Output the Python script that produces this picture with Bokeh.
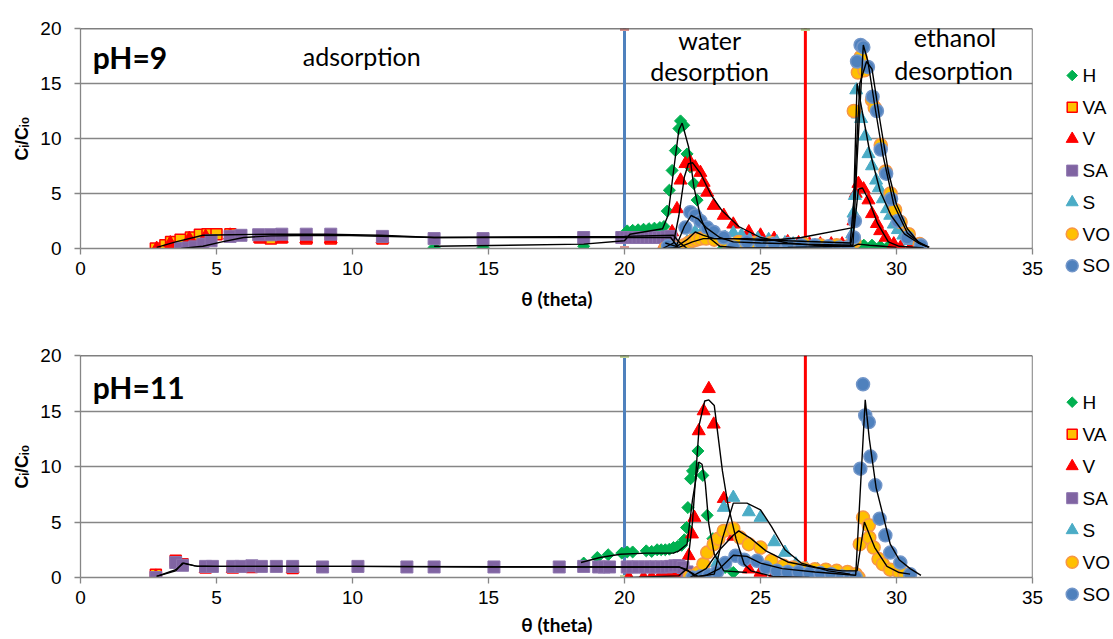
from math import pi
from bokeh.plotting import figure
from bokeh.models import Range1d, Span, Label, FixedTicker
from bokeh.layouts import column, row
from bokeh.core.properties import value
from bokeh.embed import file_html
from bokeh.resources import INLINE

# ---------------- data ----------------
X_TICKS = [0, 5, 10, 15, 20, 25, 30, 35]
Y_TICKS = [0, 5, 10, 15, 20]
SERIES = ["H", "VA", "V", "SA", "S", "VO", "SO"]
PHASE_BOUNDS = [20.0, 26.65]

# pH = 9
H9_x = [13.0, 14.8, 18.5, 20.1, 20.3, 20.5, 20.7, 20.9, 21.1, 21.3, 21.45, 21.57, 21.65, 21.75, 21.87, 22.0, 22.06, 22.18, 22.3, 22.42, 22.55, 22.67, 22.8, 23.04, 23.65, 24.0, 24.6, 25.0, 25.85, 26.2, 26.6, 27.0, 27.3, 27.65, 28.6, 28.8, 29.1, 29.4, 29.7]
H9_y = [0.1, 0.1, 0.2, 1.6, 1.65, 1.7, 1.75, 1.8, 1.85, 1.9, 2.0, 3.4, 5.3, 7.1, 8.9, 10.9, 11.6, 11.2, 8.6, 7.4, 5.9, 4.4, 2.7, 1.3, 0.1, 0.1, 0.0, 0.0, 0.0, 0.0, 0.0, 0.0, 0.0, 0.0, 0.4, 0.3, 0.3, 0.2, 0.2]
H9_fit_x = [13.0, 18.5, 20.0, 20.2, 21.4, 21.6, 21.8, 22.0, 22.12, 22.36, 22.55, 22.8, 23.1, 23.5, 24.2, 26.0, 28.4, 28.6, 29.0, 29.5, 30.0]
H9_fit_y = [0.2, 0.4, 0.7, 1.3, 1.8, 3.0, 7.0, 10.8, 11.4, 9.2, 5.6, 2.8, 1.0, 0.2, 0.05, 0.1, 0.2, 0.4, 0.3, 0.2, 0.1]

VA9_x = [2.77, 3.12, 3.33, 3.68, 4.06, 4.39, 4.67, 5.0, 5.51, 6.6, 7.0, 7.4, 8.3, 9.2, 11.1]
VA9_y = [0.0, 0.3, 0.6, 0.8, 1.0, 1.25, 1.3, 1.3, 1.3, 1.0, 0.9, 1.0, 0.9, 0.9, 0.9]
VA9_fit_x = [2.8, 3.5, 4.5, 5.5, 7.0, 9.0, 11.0, 13.0, 20.0, 21.7, 22.0]
VA9_fit_y = [0.1, 0.6, 1.2, 1.25, 1.3, 1.3, 1.2, 1.0, 1.0, 1.0, 0.0]

V9_x = [2.8, 3.3, 4.0, 4.6, 5.5, 6.6, 7.4, 8.3, 9.2, 11.1, 21.38, 21.75, 21.93, 22.06, 22.24, 22.42, 22.6, 22.79, 22.91, 23.04, 23.28, 23.65, 24.0, 24.57, 25.0, 25.5, 26.0, 26.4, 26.8, 27.2, 27.6, 28.0, 28.3, 28.42, 28.5, 28.6, 28.79, 28.97, 29.1, 29.28, 29.4, 29.6, 29.9, 30.15, 30.5, 31.0]
V9_y = [0.0, 0.5, 0.9, 1.1, 1.2, 0.9, 0.9, 0.85, 0.85, 0.85, 0.0, 1.5, 3.6, 6.2, 7.7, 7.85, 7.4, 6.9, 6.0, 5.1, 3.9, 3.0, 2.2, 1.5, 1.2, 0.9, 0.6, 0.5, 0.4, 0.4, 0.4, 0.4, 0.5, 2.5, 5.0, 5.9, 5.4, 4.4, 3.15, 2.25, 1.6, 1.0, 0.4, 0.1, 0.0, 0.0]
V9_fit_x = [21.4, 21.8, 22.0, 22.2, 22.35, 22.5, 22.8, 23.2, 23.6, 24.2, 25.0, 26.0, 27.0, 28.3, 28.45, 28.6, 28.75, 29.0, 29.3, 29.7, 30.1, 31.0]
V9_fit_y = [0.0, 0.5, 3.0, 6.5, 7.7, 7.8, 6.8, 4.8, 3.4, 2.0, 1.0, 0.5, 0.3, 0.2, 2.0, 5.4, 5.5, 4.3, 2.3, 0.6, 0.2, 0.05]

SA9_x = [3.68, 3.95, 4.2, 4.5, 4.8, 5.5, 5.9, 6.55, 7.0, 7.4, 8.3, 9.2, 11.1, 13.0, 14.8, 18.5, 19.9, 20.05, 20.2, 20.35, 20.5, 20.65, 20.8, 20.95, 21.1, 21.25, 21.4, 21.55, 21.7, 22.2]
SA9_y = [0.0, 0.05, 0.15, 0.4, 0.7, 1.1, 1.2, 1.25, 1.25, 1.3, 1.3, 1.3, 1.1, 0.9, 0.9, 1.0, 1.0, 1.0, 1.0, 1.0, 1.0, 1.0, 1.0, 1.0, 1.0, 1.0, 1.0, 1.05, 1.1, 0.0]
SA9_fit_x = [3.7, 4.5, 5.2, 6.0, 7.0, 9.5, 13.0, 20.0, 21.8, 22.0, 22.3]
SA9_fit_y = [0.0, 0.2, 0.6, 1.0, 1.15, 1.2, 1.0, 1.1, 1.2, 0.6, 0.0]

S9_x = [21.9, 22.3, 22.6, 22.8, 23.1, 23.4, 23.7, 24.0, 24.3, 24.6, 24.9, 25.3, 25.6, 25.9, 26.2, 26.5, 26.9, 27.3, 27.7, 28.0, 28.2, 28.37, 28.42, 28.47, 28.52, 28.58, 28.7, 28.85, 28.97, 29.1, 29.25, 29.35, 29.5, 29.65, 29.77, 29.9, 30.05, 30.25, 30.5, 30.9]
S9_y = [0.0, 0.6, 1.5, 1.3, 0.9, 0.8, 1.0, 1.4, 1.2, 0.8, 0.9, 0.8, 0.6, 0.5, 0.4, 0.3, 0.2, 0.1, 0.0, 0.0, 0.1, 1.3, 3.2, 4.8, 14.4, 12.2, 11.8, 10.2, 8.6, 7.5, 6.2, 5.5, 4.5, 3.6, 3.0, 2.2, 1.7, 1.2, 0.7, 0.3]
S9_fit_x = [21.8, 22.3, 22.6, 22.9, 23.3, 24.0, 25.2, 26.5, 28.4, 28.55, 28.7, 29.0, 29.4, 29.8, 30.3, 30.8, 31.2]
S9_fit_y = [0.0, 0.8, 1.5, 1.2, 0.9, 0.9, 0.7, 1.0, 1.9, 15.0, 13.0, 9.0, 5.2, 3.0, 1.3, 0.5, 0.1]

VO9_x = [21.5, 21.65, 21.8, 22.2, 22.35, 22.5, 22.65, 22.8, 23.0, 23.3, 23.7, 24.2, 24.8, 25.4, 26.0, 26.6, 27.2, 27.8, 28.3, 28.45, 28.43, 28.58, 28.68, 28.82, 29.1, 29.2, 29.42, 29.6, 29.78, 29.95, 30.15, 30.45, 30.85]
VO9_y = [0.0, 0.0, 0.1, 0.3, 0.5, 0.7, 0.8, 0.9, 0.9, 0.8, 0.7, 0.6, 0.5, 0.5, 0.4, 0.4, 0.3, 0.3, 0.3, 0.6, 12.5, 16.0, 17.4, 16.2, 13.5, 12.8, 9.4, 7.0, 5.0, 3.5, 2.4, 1.3, 0.4]
VO9_fit_x = [21.5, 22.0, 22.5, 22.9, 23.5, 24.5, 26.0, 28.3, 28.45, 28.65, 28.9, 29.1, 29.4, 29.7, 30.0, 30.4, 30.8, 31.2]
VO9_fit_y = [0.0, 0.1, 0.6, 0.9, 0.9, 0.9, 0.7, 0.5, 5.0, 15.0, 17.0, 16.3, 11.5, 7.0, 4.0, 1.8, 0.6, 0.1]

SO9_x = [21.6, 21.8, 22.24, 22.42, 22.6, 22.79, 23.04, 23.28, 23.65, 24.0, 24.5, 25.0, 25.5, 26.0, 26.5, 27.0, 27.5, 27.9, 28.2, 28.43, 28.47, 28.55, 28.68, 28.78, 28.95, 29.12, 29.28, 29.42, 29.62, 29.8, 30.05, 30.4, 30.9]
SO9_y = [0.2, 0.0, 1.9, 3.3, 3.0, 2.5, 1.9, 1.5, 1.0, 0.1, 0.6, 0.5, 0.4, 0.4, 0.3, 0.3, 0.2, 0.1, 0.1, 1.0, 2.5, 17.0, 18.5, 18.3, 16.5, 13.8, 12.5, 9.0, 6.8, 4.5, 2.5, 1.0, 0.3]
SO9_fit_x = [21.5, 21.9, 22.2, 22.45, 22.7, 23.0, 23.5, 24.0, 25.0, 26.5, 28.4, 28.55, 28.78, 28.95, 29.2, 29.5, 29.9, 30.4, 30.9, 31.2]
SO9_fit_y = [0.5, 0.2, 2.0, 3.0, 2.7, 1.9, 1.0, 0.6, 0.5, 0.4, 0.3, 8.0, 18.5, 17.0, 13.0, 8.5, 4.0, 1.4, 0.4, 0.1]

# pH = 11
H11_x = [18.5, 19.0, 19.4, 19.9, 20.1, 20.3, 20.8, 21.0, 21.2, 21.35, 21.5, 21.65, 21.8, 21.95, 22.1, 22.2, 22.28, 22.33, 22.43, 22.5, 22.6, 22.7, 22.88, 23.04, 23.25, 23.7, 24.0]
H11_y = [1.3, 1.8, 2.05, 2.2, 2.3, 2.3, 2.4, 2.35, 2.5, 2.5, 2.5, 2.55, 2.7, 2.8, 2.9, 3.4, 4.5, 6.3, 8.9, 9.6, 10.0, 11.4, 9.2, 5.6, 3.5, 0.9, 0.45]
H11_fit_x = [18.4, 19.1, 19.85, 20.8, 21.8, 22.0, 22.3, 22.5, 22.73, 22.85, 22.97, 23.1, 23.3, 23.65, 24.5]
H11_fit_y = [1.35, 1.8, 2.1, 2.2, 2.2, 2.4, 3.0, 7.0, 10.4, 10.2, 8.5, 4.8, 2.1, 0.6, 0.45]

VA11_x = [2.77, 3.5, 3.75, 4.6, 5.6, 6.3, 7.8]
VA11_y = [0.25, 1.5, 1.2, 0.9, 0.9, 0.95, 0.85]
VA11_fit_x = [2.8, 3.5, 3.8, 4.3, 10.0, 20.0, 22.0, 22.4, 22.7]
VA11_fit_y = [0.1, 0.7, 1.3, 1.0, 1.0, 0.95, 0.95, 0.5, 0.1]

V11_x = [2.77, 4.6, 5.6, 6.3, 7.8, 20.16, 20.7, 21.0, 21.3, 21.5, 21.7, 21.9, 22.1, 22.36, 22.48, 22.57, 22.73, 22.91, 23.1, 23.28, 23.65, 24.0, 24.57, 25.0, 25.45, 25.85, 26.2, 26.6]
V11_y = [0.1, 0.8, 0.8, 0.85, 0.8, 0.0, 0.0, 0.05, 0.1, 0.1, 0.15, 0.2, 0.3, 1.95, 3.9, 5.4, 13.2, 15.0, 17.0, 13.8, 7.1, 3.7, 0.75, 0.45, 0.0, 0.0, 0.0, 0.0]
V11_fit_x = [20.2, 22.0, 22.3, 22.5, 22.75, 22.95, 23.1, 23.3, 23.6, 23.8, 24.1, 24.4, 24.65, 25.45, 26.8]
V11_fit_y = [0.0, 0.15, 0.8, 5.0, 13.8, 15.9, 16.0, 15.5, 9.6, 6.6, 3.5, 1.2, 0.6, 0.1, 0.0]

SA11_x = [2.77, 3.5, 3.75, 4.6, 4.85, 5.6, 5.9, 6.3, 6.65, 7.2, 7.8, 8.9, 10.2, 12.0, 13.0, 15.2, 17.6, 18.5, 19.05, 19.25, 19.45, 20.1, 20.3, 20.5, 20.75, 20.95, 21.15, 21.35, 21.55, 21.7, 21.85, 22.0, 22.15, 22.3, 22.45]
SA11_y = [0.0, 1.35, 1.1, 1.0, 1.0, 1.0, 1.0, 1.05, 1.0, 1.0, 1.0, 0.95, 1.0, 0.95, 0.95, 0.95, 0.95, 1.0, 0.95, 0.95, 0.95, 0.95, 0.95, 0.95, 0.95, 0.95, 0.95, 0.95, 0.95, 1.0, 1.05, 1.05, 0.9, 0.5, 0.2]
SA11_fit_x = [2.8, 3.5, 3.75, 4.2, 5.0, 10.0, 15.0, 20.0, 22.0, 22.3, 22.6]
SA11_fit_y = [0.1, 0.6, 1.3, 1.05, 1.0, 1.0, 0.95, 0.95, 0.95, 0.7, 0.1]

S11_x = [22.6, 23.0, 23.4, 23.65, 24.0, 24.57, 25.0, 25.5, 25.9, 26.3, 26.7, 27.1, 27.5, 27.9, 28.3]
S11_y = [0.2, 0.3, 1.3, 6.3, 7.2, 5.9, 5.4, 3.2, 2.25, 1.2, 0.8, 0.7, 0.6, 0.4, 0.2]
S11_fit_x = [22.5, 23.3, 23.6, 24.0, 24.5, 25.0, 25.4, 25.9, 26.5, 27.5, 28.3]
S11_fit_y = [0.0, 0.3, 3.5, 6.7, 6.7, 6.1, 4.6, 2.5, 1.3, 0.6, 0.3]

VO11_x = [22.4, 22.7, 22.9, 23.04, 23.28, 23.45, 23.65, 24.0, 24.25, 24.57, 25.0, 25.4, 25.85, 26.2, 26.6, 27.0, 27.4, 27.8, 28.2, 28.5, 28.6, 28.65, 28.77, 28.98, 29.0, 29.16, 29.34, 29.5, 29.77, 30.1, 30.3]
VO11_y = [0.1, 0.4, 1.2, 2.25, 3.0, 3.5, 4.2, 4.4, 3.6, 3.0, 2.7, 1.5, 1.05, 0.9, 0.8, 0.75, 0.7, 0.6, 0.5, 0.3, 0.0, 3.0, 5.4, 4.7, 3.6, 2.7, 1.66, 1.2, 0.7, 0.45, 0.3]
VO11_fit_x = [22.4, 23.0, 23.5, 24.0, 24.2, 24.6, 25.2, 26.0, 27.0, 28.0, 28.55, 28.82, 29.0, 29.2, 29.65, 30.1, 30.5]
VO11_fit_y = [0.0, 0.8, 2.5, 3.8, 4.2, 3.6, 2.4, 1.4, 0.9, 0.6, 0.6, 5.0, 3.9, 2.7, 1.0, 0.45, 0.3]

SO11_x = [22.5, 22.8, 23.1, 23.4, 23.7, 24.08, 24.4, 24.87, 25.2, 25.6, 26.0, 26.4, 26.8, 27.2, 27.6, 28.0, 28.3, 28.5, 28.67, 28.77, 28.85, 28.98, 29.04, 29.22, 29.38, 29.59, 29.77, 30.14, 30.5]
SO11_y = [0.0, 0.1, 0.2, 0.5, 1.3, 1.95, 1.6, 1.5, 0.9, 0.6, 0.5, 0.5, 0.4, 0.4, 0.3, 0.1, 0.0, 0.0, 9.8, 17.4, 14.6, 14.0, 10.9, 8.3, 5.3, 3.8, 2.25, 1.35, 0.3]
SO11_fit_x = [22.5, 23.0, 23.5, 24.0, 24.5, 25.0, 25.8, 27.0, 28.5, 28.85, 29.0, 29.25, 29.77, 30.1, 30.5, 30.9]
SO11_fit_y = [0.0, 0.2, 0.8, 2.0, 1.9, 1.3, 0.8, 0.5, 0.2, 16.0, 12.5, 8.1, 3.0, 1.6, 0.8, 0.2]

PH9 = {
    "H": (H9_x, H9_y, H9_fit_x, H9_fit_y),
    "VA": (VA9_x, VA9_y, VA9_fit_x, VA9_fit_y),
    "V": (V9_x, V9_y, V9_fit_x, V9_fit_y),
    "SA": (SA9_x, SA9_y, SA9_fit_x, SA9_fit_y),
    "S": (S9_x, S9_y, S9_fit_x, S9_fit_y),
    "VO": (VO9_x, VO9_y, VO9_fit_x, VO9_fit_y),
    "SO": (SO9_x, SO9_y, SO9_fit_x, SO9_fit_y),
}
PH11 = {
    "H": (H11_x, H11_y, H11_fit_x, H11_fit_y),
    "VA": (VA11_x, VA11_y, VA11_fit_x, VA11_fit_y),
    "V": (V11_x, V11_y, V11_fit_x, V11_fit_y),
    "SA": (SA11_x, SA11_y, SA11_fit_x, SA11_fit_y),
    "S": (S11_x, S11_y, S11_fit_x, S11_fit_y),
    "VO": (VO11_x, VO11_y, VO11_fit_x, VO11_fit_y),
    "SO": (SO11_x, SO11_y, SO11_fit_x, SO11_fit_y),
}

# ---------------- styles ----------------
STYLE = {
    "H": dict(marker="square", angle=pi / 4, size=8.5, leg=7.5, fill_color="#00B050", line_color="#00B050", line_width=1),
    "VA": dict(marker="square", angle=0, size=11, leg=10, fill_color="#FFC000", line_color="#FF0000", line_width=1.5),
    "V": dict(marker="triangle", angle=0, size=13, leg=12, fill_color="#FF0000", line_color="#FF0000", line_width=1),
    "SA": dict(marker="square", angle=0, size=12, leg=11, fill_color="#8064A2", line_color="#8C73AD", line_width=1),
    "S": dict(marker="triangle", angle=0, size=13, leg=12, fill_color="#4BACC6", line_color="#4BACC6", line_width=1),
    "VO": dict(marker="circle", angle=0, size=13, leg=12, fill_color="#FFC000", line_color="#F79646", line_width=1.5),
    "SO": dict(marker="circle", angle=0, size=13, leg=12, fill_color="#4F81BD", line_color="#7296C9", line_width=1.5),
}
GRID = "#868686"
MAIN_W = 1050
LEG_W = 63
LEG_MARK_X = 21.7
LEG_TEXT_X = 32.0


def build(height, border_top, border_bottom, data, caps, texts,
          tick_standoff, title_standoff, tick_out):
    p = figure(width=MAIN_W, height=height, x_range=Range1d(0, 35), y_range=Range1d(0, 20),
               output_backend="svg", toolbar_location=None,
               min_border_left=80, min_border_right=18,
               min_border_top=border_top, min_border_bottom=border_bottom)
    p.outline_line_color = None
    p.background_fill_color = "white"
    p.border_fill_color = "white"

    p.xgrid.visible = False
    p.ygrid.grid_line_color = GRID
    p.ygrid.grid_line_width = 1.3
    p.xaxis.ticker = FixedTicker(ticks=X_TICKS)
    p.yaxis.ticker = FixedTicker(ticks=Y_TICKS)
    for ax in (p.xaxis, p.yaxis):
        ax.axis_line_color = GRID
        ax.axis_line_width = 1.3
        ax.major_tick_line_color = GRID
        ax.major_tick_line_width = 1.3
        ax.major_tick_in = 0
        ax.minor_tick_line_color = None
        ax.major_label_text_font = "Liberation Sans"
        ax.major_label_text_font_size = "19px"
        ax.major_label_text_color = "black"
        ax.axis_label_text_font_style = "bold"
        ax.axis_label_text_color = "black"
    p.xaxis.major_tick_out = tick_out
    p.yaxis.major_tick_out = 6
    p.xaxis.major_label_standoff = tick_standoff
    p.yaxis.major_label_standoff = 13
    p.xaxis.axis_label = "θ (theta)"
    p.xaxis.axis_label_text_font = "Lato"
    p.xaxis.axis_label_text_font_size = "19px"
    p.xaxis.axis_label_standoff = title_standoff
    p.yaxis.axis_label = "Cᵢ/Cᵢ₀"
    p.yaxis.axis_label_text_font = "Liberation Sans"
    p.yaxis.axis_label_text_font_size = "18px"
    p.yaxis.axis_label_standoff = 5

    # plot-area border (top and right)
    p.add_layout(Span(location=20, dimension="width", line_color="black", line_width=1.5))
    p.add_layout(Span(location=35, dimension="height", line_color="#3A3A3A", line_width=1.3))

    # phase boundaries
    p.segment(x0=PHASE_BOUNDS, y0=[0, 0], x1=PHASE_BOUNDS, y1=[20, 20],
              line_color=["#4F81BD", "#FF0000"], line_width=3)
    cx, cy, cc = caps
    p.rect(x=cx, y=cy, width=9, height=5, width_units="screen", height_units="screen",
           fill_color=cc, line_color=None)

    for s in SERIES:
        x, y, fx, fy = data[s]
        st = STYLE[s]
        p.scatter(x=x, y=y, marker=st["marker"], size=st["size"], angle=st["angle"],
                  fill_color=st["fill_color"], line_color=st["line_color"],
                  line_width=st["line_width"])
    for s in SERIES:
        x, y, fx, fy = data[s]
        p.line(x=fx, y=fy, line_color="black", line_width=1.4)

    for t in texts:
        p.add_layout(Label(**t))
    return p


def build_legend(height, first_row, pitch):
    lg = figure(width=LEG_W, height=height, x_range=Range1d(0, LEG_W), y_range=Range1d(height, 0),
                output_backend="svg", toolbar_location=None,
                x_axis_location=None, y_axis_location=None,
                min_border_left=0, min_border_right=0, min_border_top=0, min_border_bottom=0)
    lg.frame_align = False
    lg.grid.visible = False
    lg.outline_line_color = None
    lg.background_fill_color = "white"
    lg.border_fill_color = "white"
    rows = [first_row + pitch * i for i in range(len(SERIES))]
    for s, yy in zip(SERIES, rows):
        st = STYLE[s]
        lg.scatter(x=[LEG_MARK_X], y=[yy], marker=st["marker"], size=st["leg"], angle=st["angle"],
                   fill_color=st["fill_color"], line_color=st["line_color"], line_width=st["line_width"])
    lg.text(x=[LEG_TEXT_X] * len(SERIES), y=rows, text=SERIES,
            text_font=value("Liberation Sans"), text_font_size=value("19px"),
            text_baseline="middle", text_align="left", text_color="black")
    return lg


TXT = dict(text_font="Lato", text_color="black", text_align="center", text_baseline="middle",
           text_font_size="25px")
texts9 = [
    dict(x=0.45, y=17.4, text="pH=9", text_font="Lato", text_font_style="bold", text_font_size="30px",
         text_align="left", text_baseline="middle", text_color="black"),
    dict(x=10.34, y=17.5, text="adsorption", **TXT),
    dict(x=23.13, y=18.95, text="water", **TXT),
    dict(x=23.13, y=16.1, text="desorption", **TXT),
    dict(x=32.15, y=19.2, text="ethanol", **TXT),
    dict(x=32.1, y=16.2, text="desorption", **TXT),
]
texts11 = [
    dict(x=0.45, y=17.15, text="pH=11", text_font="Lato", text_font_style="bold", text_font_size="30px",
         text_align="left", text_baseline="middle", text_color="black"),
]

caps9 = ([20.0, 20.0, 26.65], [20.0, 0.0, 20.0], ["#D99694", "#D99694", "#C3D69B"])
caps11 = ([20.0, 20.0], [20.0, 0.0], ["#C3D69B", "#C3D69B"])

p1 = build(320, 28, 72, PH9, caps9, texts9, 7, 9, 6)
p2 = build(319, 35, 62, PH11, caps11, texts11, 7, 6, 6)
l1 = build_legend(320, 75, 31.7)
l2 = build_legend(319, 81.7, 32)

layout = column(row(p1, l1, spacing=0), row(p2, l2, spacing=0), spacing=0)
open("out.html", "w").write(file_html(layout, INLINE))
